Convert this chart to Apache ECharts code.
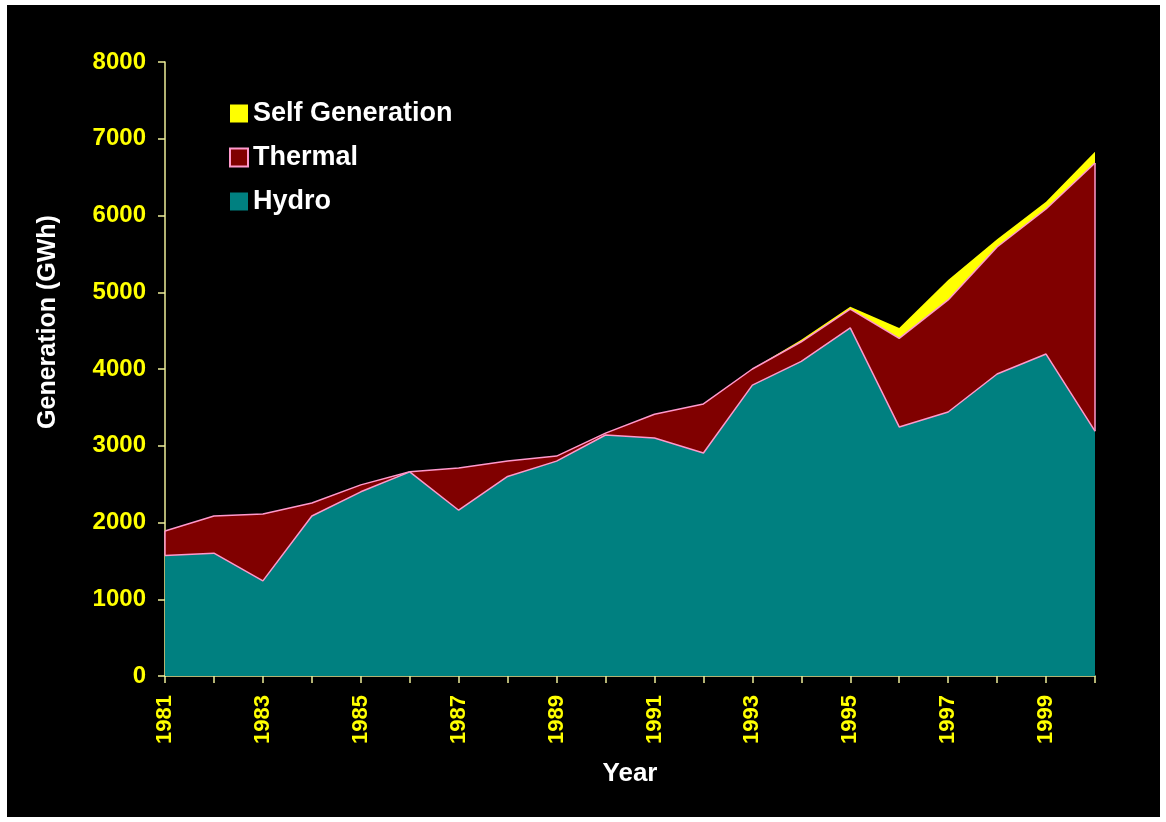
<!DOCTYPE html>
<html><head><meta charset="utf-8">
<script src="https://cdn.jsdelivr.net/npm/echarts@6/dist/echarts.min.js"></script>
<style>html,body{margin:0;padding:0;background:#fff}#c{width:1166px;height:822px}</style>
</head><body><div id="c"></div>
<script>
const years = ['1981','1982','1983','1984','1985','1986','1987','1988','1989','1990','1991','1992','1993','1994','1995','1996','1997','1998','1999','2000'];
const hydro = [1570,1600,1240,2085,2400,2660,2160,2600,2800,3140,3100,2905,3790,4100,4535,3245,3440,3935,4195,3190];
const thermal = [320,485,870,170,90,0,550,200,65,25,310,640,210,255,245,1155,1460,1655,1890,3495];
const selfGen = [0,0,0,0,0,0,0,0,0,0,0,0,0,25,30,135,260,100,95,145];
const yTicks = [0,1000,2000,3000,4000,5000,6000,7000,8000];

const FONT = 'Arial, "Liberation Sans", sans-serif';
const PINK = '#FF99CC';
const AXIS = '#EEEE99';
const last = years.length - 1;

const chart = echarts.init(document.getElementById('c'), null, {renderer:'canvas'});
chart.setOption({
  backgroundColor: '#ffffff',
  animation: false,
  graphic: [
    {type:'rect', shape:{x:7,y:5,width:1153,height:812}, style:{fill:'#000'}, z:-10, silent:true},
    {type:'text', x:48, y:322, rotation:Math.PI/2,
     style:{text:'Generation (GWh)', fill:'#fff', font:'bold 25px ' + FONT, textAlign:'center', textVerticalAlign:'middle'}, z:10}
  ],
  grid: {left:165, right:71, top:62, bottom:146},
  legend: {
    orient:'vertical', left:224, top:95, itemWidth:18, itemHeight:18, itemGap:17,
    icon:'rect',
    textStyle:{color:'#fff', fontSize:27, fontWeight:'bold', fontFamily:FONT, lineHeight:27},
    data:[
      {name:'Self Generation', itemStyle:{color:'#FFFF00', borderWidth:0}},
      {name:'Thermal', itemStyle:{color:'#800000', borderColor:PINK, borderWidth:2}},
      {name:'Hydro', itemStyle:{color:'#008080', borderWidth:0}}
    ]
  },
  xAxis: {
    type:'category', data:years, boundaryGap:false,
    name:'Year', nameLocation:'middle', nameGap:85,
    nameTextStyle:{color:'#fff', fontSize:26, fontWeight:'bold', fontFamily:FONT},
    axisLine:{lineStyle:{color:AXIS, width:1.5}},
    axisTick:{show:true, interval:0, length:7, lineStyle:{color:AXIS, width:1.5}},
    axisLabel:{interval:1, rotate:90, color:'#FFFF00', fontSize:22, fontWeight:'bold', fontFamily:FONT, margin:19},
    splitLine:{show:false}
  },
  yAxis: {
    type:'value', min:yTicks[0], max:yTicks[yTicks.length-1], interval:yTicks[1]-yTicks[0],
    axisLine:{show:true, lineStyle:{color:AXIS, width:1.5}},
    axisTick:{show:true, length:7, lineStyle:{color:AXIS, width:1.5}},
    axisLabel:{color:'#FFFF00', fontSize:24, fontWeight:'bold', fontFamily:FONT, margin:19,
      formatter: v => String(v)},
    splitLine:{show:false}
  },
  series: [
    {name:'Hydro', type:'line', stack:'g', data:hydro, showSymbol:false, symbol:'none', z:4,
     lineStyle:{color:PINK, width:1.5}, areaStyle:{color:'#008080', opacity:1}, itemStyle:{color:'#008080'}},
    {name:'Thermal', type:'line', stack:'g', data:thermal, showSymbol:false, symbol:'none', z:3,
     lineStyle:{color:PINK, width:1.5}, areaStyle:{color:'#800000', opacity:1}, itemStyle:{color:'#800000'},
     markLine:{silent:true, symbol:'none', label:{show:false}, lineStyle:{color:PINK, width:1.5, type:'solid'},
       data:[
         [{coord:[years[0], hydro[0]]},{coord:[years[0], hydro[0]+thermal[0]]}],
         [{coord:[years[last], hydro[last]]},{coord:[years[last], hydro[last]+thermal[last]]}]
       ]}},
    {name:'Self Generation', type:'line', stack:'g', data:selfGen, showSymbol:false, symbol:'none', z:2,
     lineStyle:{width:0, opacity:0}, areaStyle:{color:'#FFFF00', opacity:1}, itemStyle:{color:'#FFFF00'}}
  ]
});
</script></body></html>
